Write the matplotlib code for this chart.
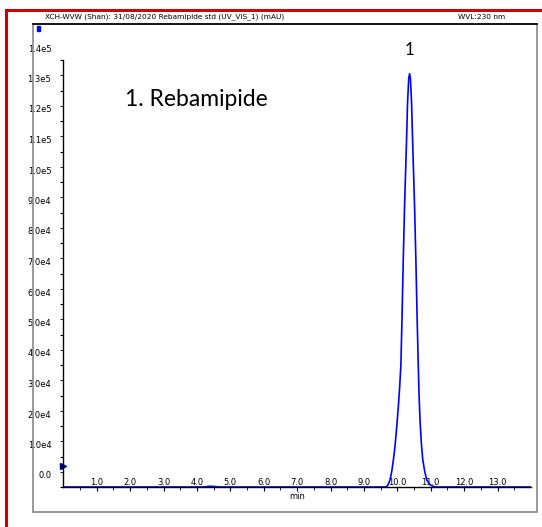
import matplotlib.pyplot as plt
from matplotlib.patches import Rectangle
from matplotlib.lines import Line2D
import matplotlib.transforms as mtransforms

# chromatogram: retention time (min) vs response
time = [0.0, 2.0, 4.2, 4.4, 4.7, 7.0, 9.4, 9.63, 9.69, 9.72, 9.78, 9.83, 9.88, 9.93, 9.98,
        10.03, 10.07, 10.105, 10.14, 10.175, 10.215, 10.27, 10.305, 10.34, 10.365,
        10.39, 10.425, 10.46, 10.515, 10.555, 10.59, 10.625, 10.65, 10.68, 10.72,
        10.76, 10.82, 10.88, 10.98, 11.05, 11.13, 12.0, 14.0]
signal = [0, 0, 0, 250, 0, 0, 0, 0, 300, 700, 2300, 5000, 8800, 13500, 19600,
          26500, 33000, 40000, 56000, 74000, 92000, 112000, 126000, 134000, 135500,
          134000, 126000, 112000, 92000, 74000, 56000, 40000, 30000, 21500, 14000,
          9000, 5000, 2300, 700, 300, 0, 0, 0]

x_ticks = [1, 2, 3, 4, 5, 6, 7, 8, 9, 10, 11, 12, 13]
x_labels = ['1.0', '2.0', '3.0', '4.0', '5.0', '6.0', '7.0', '8.0', '9.0', '10.0', '11.0', '12.0', '13.0']
y_ticks = [0, 1e4, 2e4, 3e4, 4e4, 5e4, 6e4, 7e4, 8e4, 9e4, 1e5, 1.1e5, 1.2e5, 1.3e5, 1.4e5]
y_labels = ['0.0', '1.0e4', '2.0e4', '3.0e4', '4.0e4', '5.0e4', '6.0e4', '7.0e4', '8.0e4',
            '9.0e4', '1.0e5', '1.1e5', '1.2e5', '1.3e5', '1.4e5']

W, H = 542, 527
fig = plt.figure(figsize=(W / 100, H / 100), dpi=100)

# figure pixel coords -> figure fraction
def fx(px):
    return px / W

def fy(py):
    return 1 - py / H

# outer red frame, grey inner frame
fig.add_artist(Line2D([fx(6), fx(6)], [fy(10), 0], color='#cc0000', lw=2.2))
fig.add_artist(Line2D([fx(6), 1], [fy(10), fy(10)], color='#cc0000', lw=2.2))
fig.add_artist(Rectangle((fx(33), fy(512)), fx(537) - fx(33), fy(24) - fy(512),
                         fill=False, edgecolor='#888888', lw=1.2))
fig.add_artist(Line2D([fx(33), fx(537)], [fy(24), fy(24)], color='black', lw=1.2))
fig.add_artist(Rectangle((fx(37), fy(31)), fx(3), fy(26) - fy(31), color='blue'))

fig.text(fx(45), fy(17), 'XCH-WVW (Shan): 31/08/2020 Rebamipide std (UV_VIS_1) (mAU)',
         fontsize=5.3, va='center', ha='left')
fig.text(fx(505), fy(17), 'WVL:230 nm', fontsize=5.3, va='center', ha='right')

ax = fig.add_axes([63.3 / W, 1 - 487 / H, (531 - 63.3) / W, (487 - 60) / H])
ax.plot(time, signal, color='#0000ff', lw=1.2)
ax.set_xlim(0, 14.0)
ax.set_ylim(0, 1.4e5)

for s in ['top', 'right']:
    ax.spines[s].set_visible(False)
ax.spines['left'].set_linewidth(1.0)
ax.spines['bottom'].set_linewidth(1.0)

ax.set_xticks(x_ticks)
ax.set_xticklabels(x_labels, fontsize=6)
ax.set_xticks([t + 0.5 for t in range(0, 14)], minor=True)
ax.tick_params(axis='x', which='major', direction='out', length=3, pad=-9.5)
ax.tick_params(axis='x', which='minor', direction='out', length=2)

# y labels sit ~11 px above their ticks
ax.set_yticks(y_ticks)
ax.set_yticklabels([])
ax.set_yticks([v + 5000 for v in y_ticks[:-1]], minor=True)
ax.tick_params(axis='y', which='both', direction='out', length=2)
lab_tr = ax.get_yaxis_transform() + mtransforms.ScaledTranslation(-12 / 100, 11 / 100, fig.dpi_scale_trans)
for v, lab in zip(y_ticks, y_labels):
    ax.text(0, v, lab, transform=lab_tr, fontsize=6, ha='right', va='center')

ax.set_xlabel('min', fontsize=6, labelpad=-2)
ax.plot([0], [7000], marker='>', color='#000080', markersize=4, clip_on=False)

ax.text(10.37, 1.405e5, '1', fontsize=12, ha='center', va='bottom', family='Lato', clip_on=False)
ax.text(1.85, 1.27e5, '1. Rebamipide', fontsize=16.5, ha='left', va='center', family='Lato')

fig.savefig('out.png', dpi=100)
